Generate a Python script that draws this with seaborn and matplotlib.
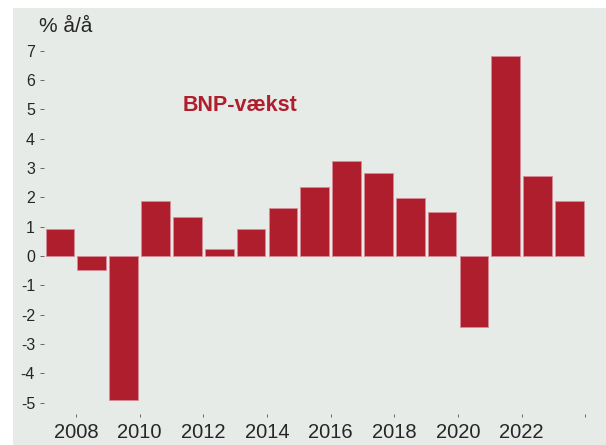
import numpy as np
import pandas as pd
import seaborn as sns
import matplotlib
matplotlib.use("Agg")
import matplotlib.pyplot as plt
from matplotlib.patches import Rectangle

aar = np.arange(2007, 2024)
vaekst = [0.91, -0.49, -4.90, 1.87, 1.33, 0.23, 0.93, 1.63, 2.34,
          3.24, 2.82, 1.99, 1.49, -2.41, 6.84, 2.73, 1.89]
x_ticks = [2008, 2010, 2012, 2014, 2016, 2018, 2020, 2022, 2024]
x_labels = ["2008", "2010", "2012", "2014", "2016", "2018", "2020", "2022", ""]
y_ticks = list(range(-5, 8))
y_labels = [str(v) for v in y_ticks]

roed = "#AF1E2D"
graa = "#E7EBE8"

sns.set_style("white")
plt.rcParams['font.family'] = ['Liberation Sans', 'DejaVu Sans']

W, H = 606, 445
fig = plt.figure(figsize=(W / 100, H / 100), dpi=100)
fig.patch.set_facecolor("white")
# graa baggrund som i originalen (hvid kant oeverst og til venstre)
fig.patches.append(Rectangle((13 / W, 0), 1 - 13 / W, 1 - 8 / H,
                             transform=fig.transFigure, facecolor=graa,
                             edgecolor="none", zorder=-10))

ax = fig.add_axes([44 / W, (H - 414) / H, (595 - 44) / W, (414 - 30) / H])
ax.set_facecolor("none")

df = pd.DataFrame({"aar": aar + 0.5, "vaekst": vaekst})
sns.barplot(data=df, x="aar", y="vaekst", native_scale=True, width=0.9,
            color=roed, saturation=1, errorbar=None, ax=ax,
            edgecolor="#D68C96", linewidth=0.6)

ax.set_xlim(2007, 2024.3)
ax.set_ylim(-5.39, 7.71)
ax.set_xticks(x_ticks)
ax.set_xticklabels(x_labels, fontsize=14.5)
ax.set_yticks(y_ticks)
ax.set_yticklabels(y_labels, fontsize=11.5)
ax.tick_params(axis="x", bottom=True, direction="out", length=2.5, width=0.7,
               color="#666666", pad=4)
ax.tick_params(axis="y", left=True, direction="out", length=3, width=0.7,
               color="#666666", pad=3.4)
ax.set_xlabel("")
ax.set_ylabel("")
for s in ax.spines.values():
    s.set_visible(False)

ax.text(2011.35, 5.12, "BNP-vækst", color=roed, fontsize=15.5,
        fontweight="bold", ha="left", va="center")
fig.text(39 / W, 1 - 26 / H, "% å/å", fontsize=15, ha="left", va="center")

fig.savefig("out.png", dpi=100)
